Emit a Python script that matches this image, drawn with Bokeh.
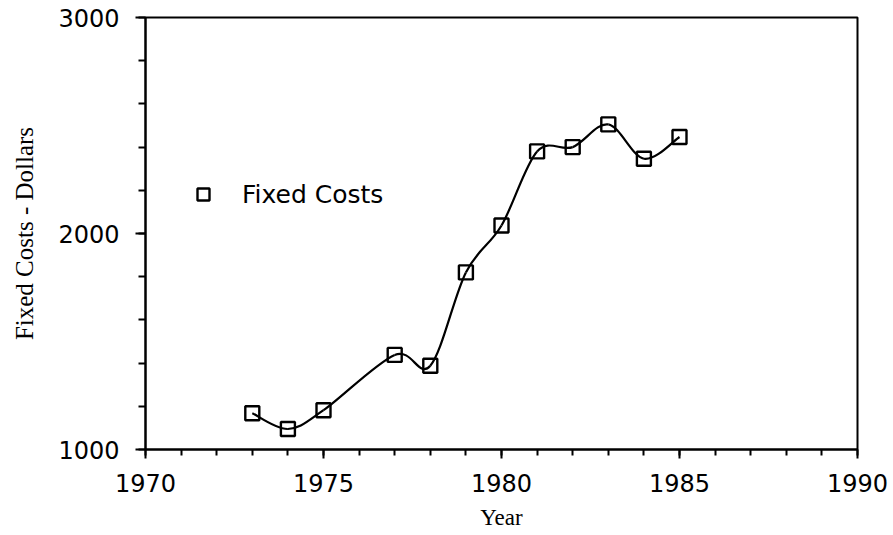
from bokeh.plotting import figure
from bokeh.models import ColumnDataSource, Legend, LegendItem, FixedTicker, Range1d
from bokeh.embed import file_html
from bokeh.resources import INLINE

# ---- data ----
years = [1973, 1974, 1975, 1977, 1978, 1979, 1980, 1981, 1982, 1983, 1984, 1985]
fixed_costs = [1168, 1095, 1182, 1438, 1388, 1820, 2037, 2380, 2400, 2505, 2346, 2447]
x_major_ticks = [1970, 1975, 1980, 1985, 1990]
x_minor_ticks = list(range(1970, 1991))
y_major_ticks = [1000, 2000, 3000]
y_minor_ticks = list(range(1000, 3001, 200))
series_name = "Fixed Costs"

# smooth (Catmull-Rom -> cubic Bezier) segments built from the data points
n = len(years)
x0, y0, x1, y1, cx0, cy0, cx1, cy1 = ([] for _ in range(8))
for i in range(n - 1):
    pa = (years[max(i - 1, 0)], fixed_costs[max(i - 1, 0)])
    pb = (years[i], fixed_costs[i])
    pc = (years[i + 1], fixed_costs[i + 1])
    pd = (years[min(i + 2, n - 1)], fixed_costs[min(i + 2, n - 1)])
    x0.append(pb[0]); y0.append(pb[1]); x1.append(pc[0]); y1.append(pc[1])
    cx0.append(pb[0] + (pc[0] - pa[0]) / 6.0)
    cy0.append(pb[1] + (pc[1] - pa[1]) / 6.0)
    cx1.append(pc[0] - (pd[0] - pb[0]) / 6.0)
    cy1.append(pc[1] - (pd[1] - pb[1]) / 6.0)

curve = ColumnDataSource(dict(x0=x0, y0=y0, x1=x1, y1=y1, cx0=cx0, cy0=cy0, cx1=cx1, cy1=cy1))
pts = ColumnDataSource(dict(x=years, y=fixed_costs))

p = figure(width=890, height=532,
           x_range=Range1d(1970, 1990), y_range=Range1d(1000, 3000),
           output_backend="svg", toolbar_location=None,
           min_border_left=145, min_border_right=33, min_border_top=17, min_border_bottom=81)

p.bezier(x0="x0", y0="y0", x1="x1", y1="y1", cx0="cx0", cy0="cy0", cx1="cx1", cy1="cy1",
         source=curve, line_color="black", line_width=2.2)
sc = p.scatter(x="x", y="y", source=pts, marker="square", size=14,
               line_color="black", line_width=2.4, fill_color="white", fill_alpha=0.0)

p.xgrid.visible = False
p.ygrid.visible = False
p.outline_line_color = "black"
p.outline_line_width = 2
p.background_fill_color = "white"
p.border_fill_color = "white"

p.xaxis.ticker = FixedTicker(ticks=x_major_ticks, minor_ticks=x_minor_ticks)
p.yaxis.ticker = FixedTicker(ticks=y_major_ticks, minor_ticks=y_minor_ticks)

for ax in (p.xaxis[0], p.yaxis[0]):
    ax.axis_line_color = "black"
    ax.axis_line_width = 2
    ax.major_tick_line_color = "black"
    ax.major_tick_line_width = 2
    ax.minor_tick_line_color = "black"
    ax.minor_tick_line_width = 2
    ax.major_tick_in = 0
    ax.minor_tick_in = 0
    ax.major_label_text_font = "DejaVu Sans"
    ax.major_label_text_font_size = "24px"
    ax.major_label_text_color = "black"
    ax.axis_label_text_font = "Liberation Serif"
    ax.axis_label_text_font_style = "normal"
    ax.axis_label_text_color = "black"

p.xaxis.axis_label_text_font_size = "23px"
p.yaxis.axis_label_text_font_size = "25px"
p.xaxis.major_tick_out = 9
p.xaxis.minor_tick_out = 6
p.yaxis.major_tick_out = 10
p.yaxis.minor_tick_out = 7
p.xaxis.major_label_standoff = 15
p.yaxis.major_label_standoff = 16
p.xaxis.axis_label = "Year"
p.yaxis.axis_label = "Fixed Costs - Dollars"
p.xaxis.axis_label_standoff = 10
p.yaxis.axis_label_standoff = 17

legend = Legend(items=[LegendItem(label=series_name, renderers=[sc])],
                location=(43, 240), padding=0, margin=0, spacing=0,
                glyph_width=30, glyph_height=30, label_height=30,
                label_standoff=24, border_line_color=None,
                background_fill_alpha=0.0,
                label_text_font="DejaVu Sans", label_text_font_size="25px",
                label_text_color="black")
p.add_layout(legend, "center")

open("out.html", "w").write(file_html(p, INLINE))
